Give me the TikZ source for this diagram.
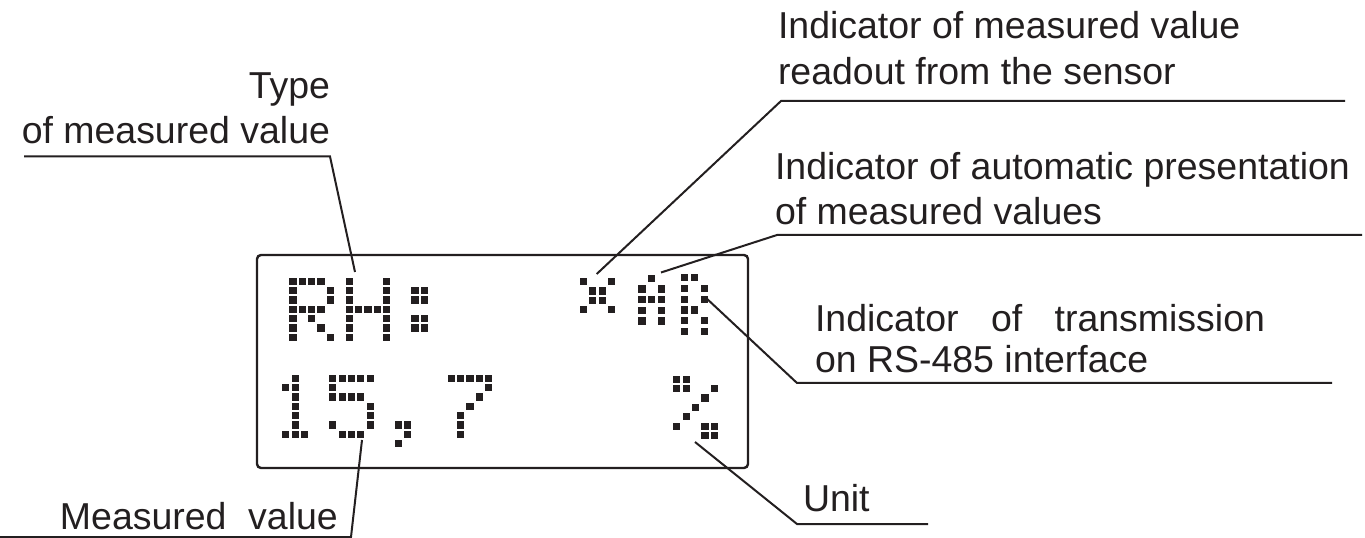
\documentclass[tikz,border=0pt]{standalone}
\usepackage{fontspec}
\setmainfont{Liberation Sans}
\definecolor{ink}{HTML}{231F20}
\newcommand\lcdglyph[5]{\foreach \c/\r in {#5}{\fill[ink] ({#1+\c*#3-3.6},{#2+\r*#4-3.6}) rectangle ++(7.2,7.2);}}
\begin{document}
\begin{tikzpicture}[x=0.75pt,y=-0.75pt,
  lbl/.style={inner sep=0pt, outer sep=0pt, text=ink, font=\fontsize{28.1}{34}\selectfont},
  leader/.style={draw=ink, line width=1.5pt, line join=miter}]
\useasboundingbox (0,0) rectangle (1365,538);
% display frame
\node[draw=ink, line width=1.8pt, rounded corners=3pt, minimum width=368.25pt, minimum height=159.75pt, inner sep=0pt] (lcd) at (502.5,361.5) {};
% top line: RH:
\lcdglyph{293}{281.3}{9.35}{9.33}{0/0,1/0,2/0,3/0,0/1,4/1,0/2,4/2,0/3,1/3,2/3,3/3,0/4,2/4,0/5,3/5,0/6,4/6}
\lcdglyph{349.3}{281.3}{9.35}{9.33}{0/0,4/0,0/1,4/1,0/2,4/2,0/3,1/3,2/3,3/3,4/3,0/4,4/4,0/5,4/5,0/6,4/6}
\lcdglyph{405.6}{281.3}{9.35}{9.33}{1/1,2/1,1/2,2/2,1/4,2/4,1/5,2/5}
% indicators
\lcdglyph{583.3}{281.7}{9.45}{9.4}{0/0,3/0,1/1,2/1,1/2,2/2,0/3,3/3}
\lcdglyph{642}{278.3}{9.8}{10.7}{1/0,0/1,2/1,0/2,1/2,2/2,0/3,2/3,0/4,2/4}
\lcdglyph{684.5}{277.5}{10}{10.85}{0/0,1/0,0/1,2/1,0/2,2/2,0/3,1/3,0/4,2/4,0/5,2/5}
% bottom line: 15,7 %
\lcdglyph{276.5}{378.3}{9.35}{9.33}{2/0,1/1,2/1,2/2,2/3,2/4,2/5,1/6,2/6,3/6}
\lcdglyph{332.8}{378.3}{9.35}{9.33}{0/0,1/0,2/0,3/0,4/0,0/1,0/2,1/2,2/2,3/2,4/3,4/4,0/5,4/5,1/6,2/6,3/6}
\lcdglyph{389.1}{378.3}{9.35}{9.33}{1/5,2/5,2/6,1/7}
\lcdglyph{451.3}{378.3}{9.35}{9.33}{0/0,1/0,2/0,3/0,4/0,4/1,3/2,2/3,1/4,1/5,1/6}
\lcdglyph{676.7}{379.3}{9.4}{9.4}{0/0,1/0,0/1,1/1,4/1,3/2,2/3,1/4,0/5,3/5,4/5,3/6,4/6}
% labels
\node[lbl, anchor=base east] (type1) at (330,99) {Type};
\node[lbl, anchor=base east] (type2) at (330,144) {of measured value};
\node[lbl, anchor=base west] (meas) at (60,529) {Measured\hspace{0.3em} value};
\node[lbl, anchor=base west] (ind1a) at (778,39) {Indicator of measured value};
\node[lbl, anchor=base west] (ind1b) at (778,85) {readout from the sensor};
\node[lbl, anchor=base west] (ind2a) at (775,180) {Indicator of automatic presentation};
\node[lbl, anchor=base west] (ind2b) at (775,225) {of measured values};
\node[lbl, anchor=base west] (ind3a) at (815,332) {\makebox[337.5pt][s]{Indicator of transmission}};
\node[lbl, anchor=base west] (ind3b) at (815,373) {on RS-485 interface};
\node[lbl, anchor=base west] (unit) at (803,511) {Unit};
% leader coordinates
\coordinate (tS) at (24,156.5);   \coordinate (tC) at (330,156.5);  \coordinate (tE) at (355,272);
\coordinate (mS) at (0,537);      \coordinate (mC) at (351,537);    \coordinate (mE) at (362,440);
\coordinate (aS) at (1345,101);   \coordinate (aC) at (781,101);    \coordinate (aE) at (596.7,274);
\coordinate (bS) at (1362,235);   \coordinate (bC) at (777,235);    \coordinate (bE) at (661,272.5);
\coordinate (cS) at (1332,383);   \coordinate (cC) at (797,383);    \coordinate (cE) at (705,297);
\coordinate (dS) at (928,524);    \coordinate (dC) at (797,524);    \coordinate (dE) at (695,442);
\draw[leader] (tS) -- (tC) -- (tE);
\draw[leader] (mS) -- (mC) -- (mE);
\draw[leader] (aS) -- (aC) -- (aE);
\draw[leader] (bS) -- (bC) -- (bE);
\draw[leader] (cS) -- (cC) -- (cE);
\draw[leader] (dS) -- (dC) -- (dE);
\end{tikzpicture}
\end{document}
